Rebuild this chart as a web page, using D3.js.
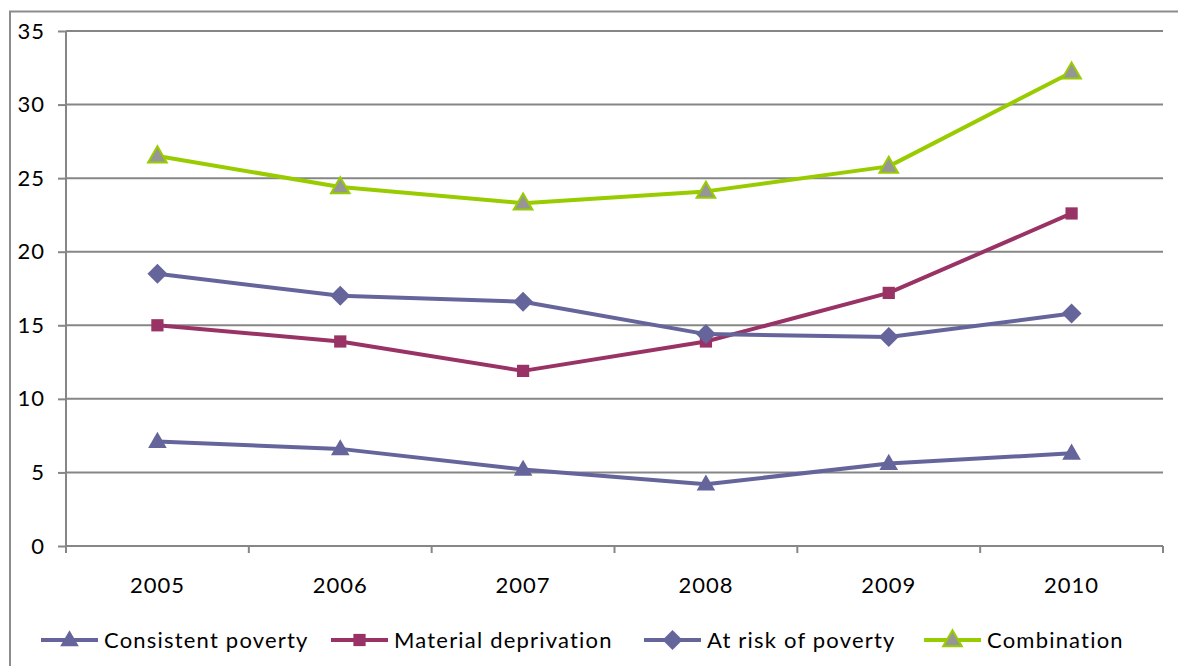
<!DOCTYPE html>
<html>
<head>
<meta charset="utf-8">
<script src="https://cdn.jsdelivr.net/npm/d3@7"></script>
<style>
  html, body { margin: 0; padding: 0; background: #fff; }
  svg { display: block; }
  text { font-family: Lato, "Open Sans", sans-serif; fill: #000; }
</style>
</head>
<body>
<svg id="chart" width="1178" height="666"></svg>
<script>
// Poverty indicators, percentages by year
const years = ["2005", "2006", "2007", "2008", "2009", "2010"];
const consistentPoverty = [7.1, 6.6, 5.2, 4.2, 5.6, 6.3];
const materialDeprivation = [15.0, 13.9, 11.9, 13.9, 17.2, 22.6];
const atRiskOfPoverty = [18.5, 17.0, 16.6, 14.4, 14.2, 15.8];
const combination = [26.5, 24.4, 23.3, 24.1, 25.8, 32.2];
const yTicks = [0, 5, 10, 15, 20, 25, 30, 35];

const series = [
  { name: "Consistent poverty", values: consistentPoverty, line: "#65659c", marker: "triangle", fill: "#65659c", stroke: "none" },
  { name: "Material deprivation", values: materialDeprivation, line: "#993366", marker: "square", fill: "#993366", stroke: "none" },
  { name: "At risk of poverty", values: atRiskOfPoverty, line: "#65659c", marker: "diamond", fill: "#65659c", stroke: "none" },
  { name: "Combination", values: combination, line: "#99cc00", marker: "triangle", fill: "#969696", stroke: "#99cc00" }
];

const svg = d3.select("#chart");
const plotLeft = 66, plotRight = 1163, plotTop = 31, plotBottom = 546;

// outer frame
svg.append("path")
  .attr("d", `M10,666 V11.5 H1178`)
  .attr("fill", "none").attr("stroke", "#8c8c8c").attr("stroke-width", 2);

const x = d3.scaleBand().domain(years).range([plotLeft, plotRight]).padding(0);
const y = d3.scaleLinear().domain([0, 35]).range([plotBottom, plotTop]);

// horizontal gridlines
svg.append("g").selectAll("line").data(yTicks.filter(t => t > 0)).join("line")
  .attr("x1", plotLeft).attr("x2", plotRight)
  .attr("y1", d => y(d)).attr("y2", d => y(d))
  .attr("stroke", "#868686").attr("stroke-width", 2);

// y axis
const yAxis = svg.append("g").attr("transform", `translate(${plotLeft},0)`)
  .call(d3.axisLeft(y).tickValues(yTicks).tickSize(8).tickPadding(13).tickFormat(d3.format("d")));
yAxis.select(".domain").attr("stroke", "#868686").attr("stroke-width", 2).attr("d", `M0,${plotTop}V${plotBottom}`);
yAxis.selectAll(".tick line").attr("stroke", "#868686").attr("stroke-width", 2);
yAxis.selectAll(".tick text").attr("font-size", 22).attr("letter-spacing", "1px")
  .attr("font-family", "Lato, sans-serif").attr("fill", "#000");

// x axis with ticks at category boundaries
const xg = svg.append("g").attr("transform", `translate(0,${plotBottom})`);
xg.append("line").attr("x1", plotLeft).attr("x2", plotRight).attr("y1", 0).attr("y2", 0)
  .attr("stroke", "#868686").attr("stroke-width", 2);
const bounds = years.map(d => x(d)).concat([x(years[years.length - 1]) + x.bandwidth()]);
xg.selectAll("line.tk").data(bounds).join("line").attr("class", "tk")
  .attr("x1", d => d).attr("x2", d => d).attr("y1", 0).attr("y2", 7)
  .attr("stroke", "#868686").attr("stroke-width", 2);
xg.selectAll("text").data(years).join("text")
  .attr("x", d => x(d) + x.bandwidth() / 2).attr("y", 47)
  .attr("text-anchor", "middle").attr("font-size", 22).attr("letter-spacing", "1px").text(d => d);

const cx = i => x(years[i]) + x.bandwidth() / 2;

// marker shapes: triangle, square, and a square turned 45 degrees
function marker(sel, s) {
  if (s.marker === "triangle") {
    sel.attr("d", d3.symbol(d3.symbolTriangle, 150)());
  } else if (s.marker === "square") {
    sel.attr("d", d3.symbol(d3.symbolSquare, 150)());
  } else {
    sel.attr("d", d3.symbol(d3.symbolSquare, 200)());
  }
  sel.attr("fill", s.fill)
    .attr("stroke", s.stroke).attr("stroke-width", s.stroke !== "none" ? 2 : 0);
}
const rot = s => (s.marker === "diamond" ? " rotate(45)" : "");
const dy = s => (s.marker === "triangle" ? 1 : 0);

series.forEach(s => {
  const g = svg.append("g");
  g.append("path")
    .datum(s.values)
    .attr("fill", "none").attr("stroke", s.line).attr("stroke-width", 4)
    .attr("stroke-linejoin", "round")
    .attr("d", d3.line().x((d, i) => cx(i)).y(d => y(d)));
  g.selectAll("path.m").data(s.values).join("path").attr("class", "m")
    .attr("transform", (d, i) => `translate(${cx(i)},${y(d) + dy(s)})${rot(s)}`)
    .call(marker, s);
});

// legend
const legendY = 640;
const legendX = [41, 331, 644, 924];
series.forEach((s, k) => {
  const g = svg.append("g").attr("transform", `translate(${legendX[k]},${legendY})`);
  g.append("line").attr("x1", 0).attr("x2", 57).attr("y1", 0).attr("y2", 0)
    .attr("stroke", s.line).attr("stroke-width", 4);
  g.append("path").attr("transform", `translate(28.5,${dy(s)})${rot(s)}`)
    .call(marker, s);
  g.append("text").attr("x", 63).attr("y", 0).attr("dy", "0.35em")
    .attr("font-size", 22).attr("letter-spacing", "1.2px").text(s.name);
});
</script>
</body>
</html>
